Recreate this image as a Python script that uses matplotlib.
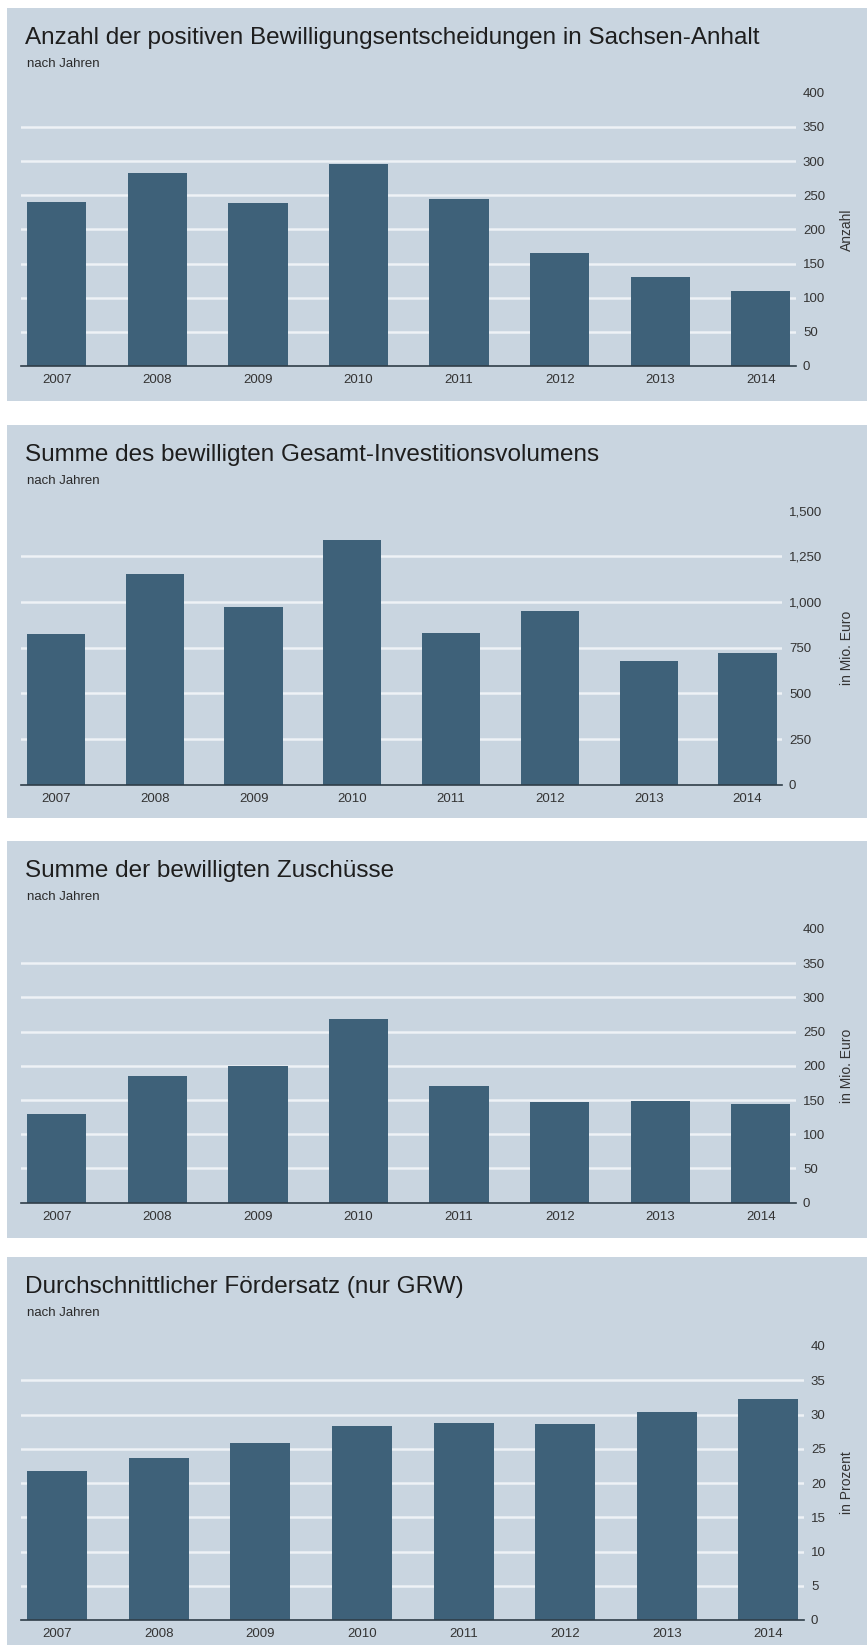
import matplotlib.pyplot as plt
from matplotlib.patches import Rectangle
from matplotlib.ticker import FuncFormatter

plt.rcParams['font.family'] = ['Liberation Sans', 'DejaVu Sans']

years = ['2007', '2008', '2009', '2010', '2011', '2012', '2013', '2014']

anzahl = [240, 282, 238, 295, 245, 166, 130, 110]
investition = [823, 1153, 971, 1339, 828, 949, 677, 723]
zuschuesse = [129, 185, 200, 269, 171, 147, 148, 144]
foerdersatz = [21.7, 23.6, 25.8, 28.3, 28.7, 28.6, 30.4, 32.3]

titles = ['Anzahl der positiven Bewilligungsentscheidungen in Sachsen-Anhalt',
          'Summe des bewilligten Gesamt-Investitionsvolumens',
          'Summe der bewilligten Zuschüsse',
          'Durchschnittlicher Fördersatz (nur GRW)']
subtitle = 'nach Jahren'
ylabels = ['Anzahl', 'in Mio. Euro', 'in Mio. Euro', 'in Prozent']
yticks_list = [[0, 50, 100, 150, 200, 250, 300, 350, 400],
               [0, 250, 500, 750, 1000, 1250, 1500],
               [0, 50, 100, 150, 200, 250, 300, 350, 400],
               [0, 5, 10, 15, 20, 25, 30, 35, 40]]
series = [anzahl, investition, zuschuesse, foerdersatz]

# colours
panel_bg = '#c9d5e0'
bar_col = '#3e6179'
text_col = '#333333'

W, H = 867, 1648
fig = plt.figure(figsize=(W / 100, H / 100), dpi=100)
fig.patch.set_facecolor('white')

# layout in pixels (from the top)
panel_tops = [8, 425, 841, 1257]
panel_bottoms = [401, 818, 1238, 1645]
axes_tops = [92.7, 510.7, 929, 1346]
axes_bases = [366, 784.7, 1202.7, 1620]
right_edges = [796, 782, 796, 804]

for i in range(4):
    T = panel_tops[i]
    B = panel_bottoms[i]
    # panel background
    fig.patches.append(Rectangle((7 / W, 1 - B / H), (W - 7) / W, (B - T) / H,
                                 transform=fig.transFigure, facecolor=panel_bg,
                                 edgecolor='none', zorder=-5))
    fig.text(25 / W, 1 - (T + 30) / H, titles[i], fontsize=17.5, color='#1e1e1e',
             ha='left', va='center')
    fig.text(27 / W, 1 - (T + 56) / H, subtitle, fontsize=9.5, color='#2a2a2a',
             ha='left', va='center')

    top_px = axes_tops[i]
    base_px = axes_bases[i]
    ax = fig.add_axes([21 / W, 1 - base_px / H, (right_edges[i] - 21) / W,
                       (base_px - top_px) / H])
    ax.set_facecolor('none')
    ticks = yticks_list[i]
    ax.set_ylim(0, ticks[-1])
    ax.set_xlim(-0.355, 7.35)

    for t in ticks[1:-1]:
        ax.axhline(t, color='#eef2f6', linewidth=1.8, zorder=1)

    ax.bar(range(len(years)), series[i], width=0.59, color=bar_col, zorder=2)

    ax.set_xticks(range(len(years)))
    ax.set_xticklabels(years)
    ax.set_yticks(ticks)
    ax.yaxis.set_major_formatter(FuncFormatter(lambda v, p: f'{v:,.0f}'))
    ax.yaxis.tick_right()
    ax.tick_params(axis='y', length=0, pad=5, labelsize=9.5, labelcolor=text_col)
    ax.tick_params(axis='x', length=0, pad=6, labelsize=9.5, labelcolor=text_col)
    for lab in ax.get_yticklabels():
        lab.set_ha('left')

    # axis title on the right
    fig.text(847 / W, 1 - (top_px + base_px) / 2 / H, ylabels[i], fontsize=10,
             color=text_col, rotation=90, ha='center', va='center')

    for s in ['left', 'right', 'top']:
        ax.spines[s].set_visible(False)
    ax.spines['bottom'].set_color('#2f3d48')
    ax.spines['bottom'].set_linewidth(1.2)
    ax.spines['bottom'].set_zorder(3)

fig.savefig('out.png', dpi=100, facecolor='white')
